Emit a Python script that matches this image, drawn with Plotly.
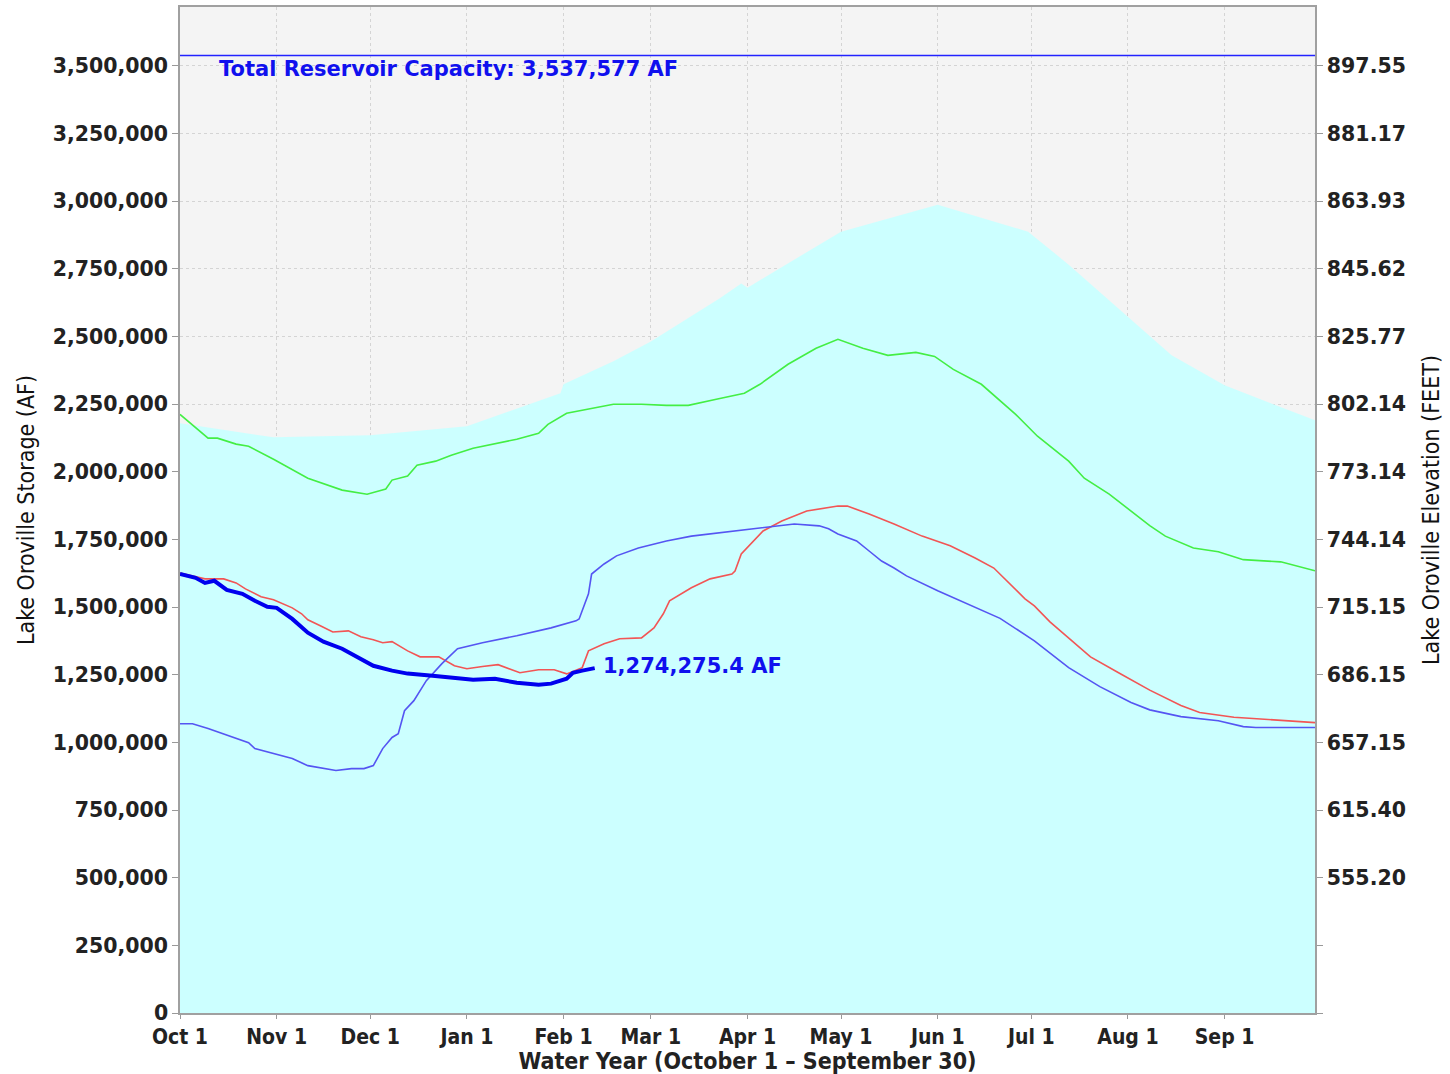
import plotly.graph_objects as go

# ---------------- data (storage in acre-feet) ----------------
envelope_dates = ["2022-10-01", "2022-10-31", "2022-12-01", "2023-01-01", "2023-01-31", "2023-02-01",
                  "2023-02-17", "2023-03-01", "2023-03-23", "2023-03-30", "2023-04-01", "2023-04-30",
                  "2023-05-01", "2023-06-01", "2023-06-30", "2023-07-13", "2023-08-01", "2023-08-15",
                  "2023-09-01", "2023-09-17", "2023-09-30"]
envelope_af = [2179000, 2127000, 2135000, 2168000, 2290000, 2323000,
               2408000, 2481000, 2640000, 2695000, 2680000, 2880000,
               2887000, 2986000, 2887000, 2765000, 2570000, 2430000,
               2319000, 2247000, 2190000]

avg_dates = ["2022-10-01", "2022-10-10", "2022-10-13", "2022-10-19", "2022-10-23", "2022-10-31",
             "2022-11-11", "2022-11-22", "2022-11-30", "2022-12-06", "2022-12-08", "2022-12-13",
             "2022-12-16", "2022-12-22", "2022-12-27", "2023-01-03", "2023-01-17", "2023-01-24",
             "2023-01-27", "2023-02-02", "2023-02-17", "2023-02-26", "2023-03-06", "2023-03-13",
             "2023-03-22", "2023-03-31", "2023-04-05", "2023-04-14", "2023-04-23", "2023-04-30",
             "2023-05-08", "2023-05-16", "2023-05-25", "2023-05-31", "2023-06-06", "2023-06-15",
             "2023-06-26", "2023-07-03", "2023-07-13", "2023-07-18", "2023-07-26", "2023-08-02",
             "2023-08-08", "2023-08-13", "2023-08-22", "2023-08-30", "2023-09-07", "2023-09-19",
             "2023-09-30"]
avg_af = [2212000, 2124000, 2124000, 2102000, 2094000, 2046000,
          1976000, 1932000, 1917000, 1936000, 1969000, 1984000,
          2024000, 2039000, 2061000, 2087000, 2120000, 2142000,
          2175000, 2216000, 2249000, 2249000, 2245000, 2245000,
          2268000, 2290000, 2323000, 2397000, 2456000, 2489000,
          2456000, 2430000, 2441000, 2426000, 2378000, 2323000,
          2212000, 2131000, 2039000, 1976000, 1917000, 1853000,
          1801000, 1762000, 1718000, 1704000, 1675000, 1667000,
          1634000]

red_dates = ["2022-10-01", "2022-10-09", "2022-10-15", "2022-10-19", "2022-10-22", "2022-10-27",
             "2022-10-31", "2022-11-06", "2022-11-09", "2022-11-11", "2022-11-15", "2022-11-19",
             "2022-11-24", "2022-11-28", "2022-12-02", "2022-12-05", "2022-12-08", "2022-12-13",
             "2022-12-17", "2022-12-23", "2022-12-28", "2023-01-01", "2023-01-06", "2023-01-11",
             "2023-01-18", "2023-01-24", "2023-01-29", "2023-02-02", "2023-02-07", "2023-02-09",
             "2023-02-14", "2023-02-19", "2023-02-26", "2023-03-02", "2023-03-05", "2023-03-07",
             "2023-03-14", "2023-03-20", "2023-03-27", "2023-03-28", "2023-03-30", "2023-04-03",
             "2023-04-06", "2023-04-12", "2023-04-20", "2023-04-30", "2023-05-03", "2023-05-10",
             "2023-05-18", "2023-05-27", "2023-06-05", "2023-06-13", "2023-06-19", "2023-06-29",
             "2023-07-02", "2023-07-07", "2023-07-13", "2023-07-20", "2023-07-29", "2023-08-08",
             "2023-08-18", "2023-08-24", "2023-09-04", "2023-09-20", "2023-09-30"]
red_af = [1626000, 1604000, 1604000, 1589000, 1567000, 1538000,
          1527000, 1497000, 1475000, 1453000, 1431000, 1408000,
          1412000, 1390000, 1379000, 1368000, 1372000, 1338000,
          1316000, 1316000, 1283000, 1272000, 1280000, 1287000,
          1257000, 1268000, 1268000, 1253000, 1276000, 1338000,
          1364000, 1383000, 1386000, 1423000, 1475000, 1523000,
          1571000, 1604000, 1622000, 1633000, 1696000, 1744000,
          1781000, 1818000, 1855000, 1873000, 1873000, 1844000,
          1807000, 1762000, 1726000, 1681000, 1644000, 1530000,
          1504000, 1445000, 1386000, 1316000, 1257000, 1193000,
          1136000, 1110000, 1093000, 1080000, 1073000]

blue_dates = ["2022-10-01", "2022-10-05", "2022-10-10", "2022-10-15", "2022-10-21", "2022-10-23",
              "2022-10-25", "2022-10-31", "2022-11-06", "2022-11-11", "2022-11-16", "2022-11-20",
              "2022-11-25", "2022-11-29", "2022-12-02", "2022-12-05", "2022-12-08", "2022-12-10",
              "2022-12-12", "2022-12-15", "2022-12-19", "2022-12-24", "2022-12-29", "2023-01-06",
              "2023-01-17", "2023-01-28", "2023-02-05", "2023-02-06", "2023-02-09", "2023-02-10",
              "2023-02-14", "2023-02-18", "2023-02-25", "2023-03-06", "2023-03-14", "2023-03-22",
              "2023-04-02", "2023-04-08", "2023-04-16", "2023-04-24", "2023-04-27", "2023-04-30",
              "2023-05-06", "2023-05-10", "2023-05-14", "2023-05-18", "2023-05-22", "2023-06-01",
              "2023-06-21", "2023-07-02", "2023-07-13", "2023-07-23", "2023-08-02", "2023-08-08",
              "2023-08-18", "2023-08-30", "2023-09-07", "2023-09-11", "2023-09-30"]
blue_af = [1069000, 1069000, 1051000, 1032000, 1007000, 999000,
           977000, 959000, 940000, 914000, 903000, 896000,
           903000, 903000, 914000, 977000, 1018000, 1032000,
           1117000, 1154000, 1228000, 1291000, 1346000, 1368000,
           1394000, 1423000, 1449000, 1456000, 1549000, 1622000,
           1659000, 1689000, 1718000, 1744000, 1762000, 1773000,
           1789000, 1795000, 1807000, 1800000, 1789000, 1770000,
           1744000, 1707000, 1670000, 1644000, 1615000, 1560000,
           1458000, 1375000, 1276000, 1206000, 1147000, 1120000,
           1095000, 1080000, 1058000, 1055000, 1055000]

current_dates = ["2022-10-01", "2022-10-06", "2022-10-09", "2022-10-12", "2022-10-16", "2022-10-21",
                 "2022-10-25", "2022-10-29", "2022-11-01", "2022-11-06", "2022-11-11", "2022-11-16",
                 "2022-11-22", "2022-11-27", "2022-12-02", "2022-12-08", "2022-12-13", "2022-12-21",
                 "2022-12-29", "2023-01-03", "2023-01-10", "2023-01-17", "2023-01-24", "2023-01-28",
                 "2023-02-02", "2023-02-04", "2023-02-07", "2023-02-11"]
current_af = [1622000, 1608000, 1589000, 1597000, 1563000, 1549000,
              1523000, 1501000, 1497000, 1456000, 1405000, 1372000,
              1346000, 1313000, 1283000, 1265000, 1254000, 1246000,
              1235000, 1231000, 1235000, 1220000, 1213000, 1217000,
              1235000, 1257000, 1265000, 1274275.4]

capacity_af = 3537577
axis_dates = ["2022-10-01", "2023-09-30"]

month_ticks = ["2022-10-01", "2022-11-01", "2022-12-01", "2023-01-01", "2023-02-01", "2023-03-01",
               "2023-04-01", "2023-05-01", "2023-06-01", "2023-07-01", "2023-08-01", "2023-09-01"]
month_labels = ["Oct 1", "Nov 1", "Dec 1", "Jan 1", "Feb 1", "Mar 1",
                "Apr 1", "May 1", "Jun 1", "Jul 1", "Aug 1", "Sep 1"]

storage_ticks = [0, 250000, 500000, 750000, 1000000, 1250000, 1500000, 1750000,
                 2000000, 2250000, 2500000, 2750000, 3000000, 3250000, 3500000]
elevation_labels = ["", "", "555.20", "615.40", "657.15", "686.15", "715.15", "744.14",
                    "773.14", "802.14", "825.77", "845.62", "863.93", "881.17", "897.55"]
y_range = [0, 3717000]

# ---------------- figure ----------------
fig = go.Figure()

fig.add_trace(go.Scatter(x=envelope_dates, y=envelope_af, mode="lines", fill="tozeroy",
                         fillcolor="#ccffff", line=dict(width=0, color="#ccffff"),
                         hoverinfo="skip", showlegend=False))
fig.add_trace(go.Scatter(x=avg_dates, y=avg_af, mode="lines",
                         line=dict(color="#44ee44", width=1.6), showlegend=False))
fig.add_trace(go.Scatter(x=red_dates, y=red_af, mode="lines",
                         line=dict(color="#f25555", width=1.6), showlegend=False))
fig.add_trace(go.Scatter(x=blue_dates, y=blue_af, mode="lines",
                         line=dict(color="#5555f2", width=1.6), showlegend=False))
fig.add_trace(go.Scatter(x=current_dates, y=current_af, mode="lines",
                         line=dict(color="#0000ee", width=4), showlegend=False))
fig.add_trace(go.Scatter(x=axis_dates, y=[capacity_af, capacity_af], mode="lines",
                         line=dict(color="#2222ff", width=1.6), showlegend=False, yaxis="y2"))

fig.add_annotation(x="2022-10-13", y=capacity_af, xref="x", yref="y",
                   text="Total Reservoir Capacity: 3,537,577 AF", showarrow=False,
                   xanchor="left", yanchor="top", yshift=1,
                   font=dict(family="DejaVu Sans", size=21, color="#1010ee", weight="bold"))
fig.add_annotation(x=current_dates[-1], y=current_af[-1], xref="x", yref="y",
                   text="1,274,275.4 AF", showarrow=False, xanchor="left", yanchor="middle",
                   xshift=6, yshift=2,
                   font=dict(family="DejaVu Sans", size=21, color="#1010ee", weight="bold"))

tick_font = dict(family="DejaVu Sans", size=20.5, color="#222222", weight="bold")
grid_common = dict(showgrid=True, gridcolor="#d4d4d4", griddash="3px,3px", gridwidth=1)

fig.update_layout(
    width=1450, height=1074,
    margin=dict(l=180, r=135, t=5, b=61),
    paper_bgcolor="white", plot_bgcolor="#f4f4f4",
    xaxis=dict(type="date", range=axis_dates, tickmode="array", tickvals=month_ticks,
               ticktext=month_labels, ticks="outside", ticklen=4, tickcolor="#999999",
               showline=True, linecolor="#a0a0a0", linewidth=1.5, mirror=True,
               tickfont=dict(family="DejaVu Sans Condensed", size=21, color="#222222", weight="bold"),
               title=dict(text="Water Year (October 1 \u2013 September 30)", standoff=2,
                          font=dict(family="DejaVu Sans Condensed", size=23, color="#222222",
                                    weight="bold")),
               zeroline=False, **grid_common),
    yaxis=dict(range=y_range, tickmode="array", tickvals=storage_ticks,
               ticktext=[f"{v:,}" for v in storage_ticks], ticks="outside", ticklen=6,
               tickcolor="#999999", showline=True, linecolor="#a0a0a0", linewidth=1.5,
               tickfont=tick_font, zeroline=False,
               title=dict(text="Lake Oroville Storage (AF)", standoff=12,
                          font=dict(family="DejaVu Sans Condensed", size=23, color="#111111")),
               **grid_common),
    yaxis2=dict(range=y_range, overlaying="y", side="right", tickmode="array",
                tickvals=storage_ticks, ticktext=elevation_labels, ticks="outside", ticklen=6,
                tickcolor="#999999", showline=True, linecolor="#a0a0a0", linewidth=1.5,
                showgrid=False, zeroline=False, tickfont=tick_font,
                title=dict(text="Lake Oroville Elevation (FEET)", standoff=18,
                           font=dict(family="DejaVu Sans Condensed", size=23, color="#111111"))),
)

fig.write_html("out.html", config={"displayModeBar": False},
               post_script="document.body.style.margin='0';")
